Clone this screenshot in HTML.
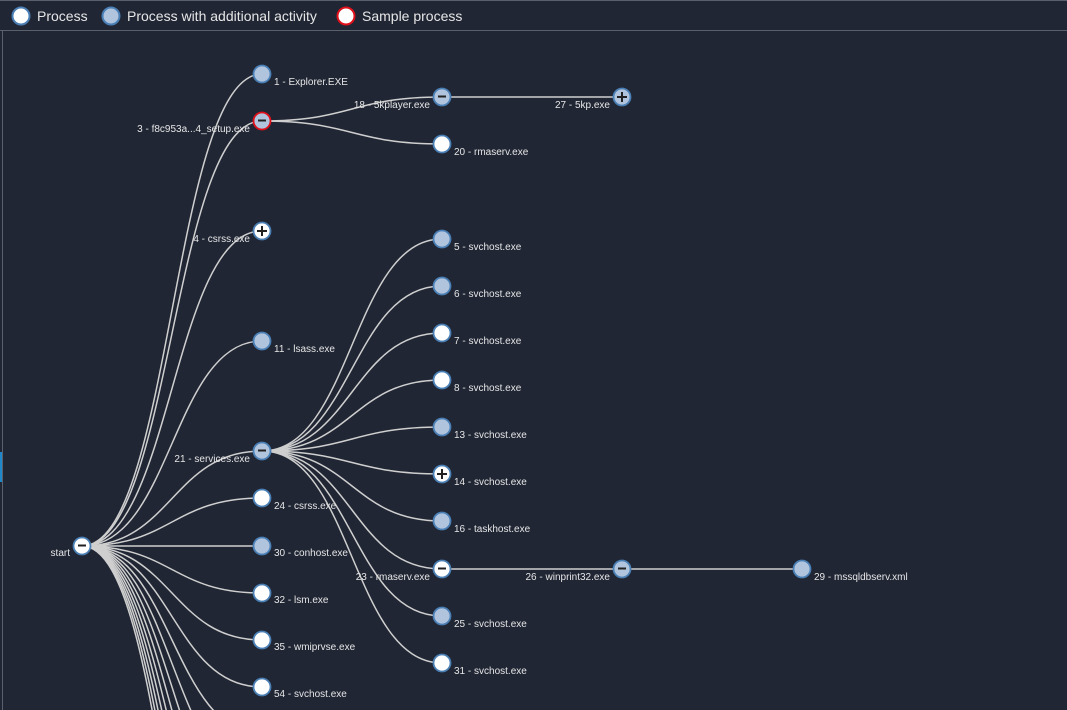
<!DOCTYPE html>
<html><head><meta charset="utf-8"><style>
html,body{margin:0;padding:0;background:#202634;width:1067px;height:710px;overflow:hidden;font-family:"Liberation Sans",sans-serif}
svg{position:absolute;left:0;top:0}
</style></head><body>
<svg width="1067" height="710" viewBox="0 0 1067 710">
<rect x="0" y="0" width="1067" height="710" fill="#202634"/>
<line x1="0" y1="30.5" x2="1067" y2="30.5" stroke="#5a606c" stroke-width="1"/>
<line x1="2.5" y1="31" x2="2.5" y2="710" stroke="#5a606c" stroke-width="1"/>
<line x1="0" y1="0.5" x2="1067" y2="0.5" stroke="#5a606c" stroke-width="1"/>
<rect x="0" y="452" width="2" height="30" fill="#1e88c8"/>
<g font-size="14" fill="#e6e6e6">
<circle cx="21" cy="16" r="8.5" fill="#fff" stroke="#4a7fb5" stroke-width="2"/>
<text x="37" y="21">Process</text>
<circle cx="111" cy="16" r="8.5" fill="#b0c4de" stroke="#4a7fb5" stroke-width="2"/>
<text x="127" y="21">Process with additional activity</text>
<circle cx="346" cy="16" r="8.5" fill="#fff" stroke="#e0101a" stroke-width="2"/>
<text x="362" y="21">Sample process</text>
</g>
<g fill="none" stroke="#cfcfcf" stroke-width="1.5">
<path d="M82,546C172,546 172,74 262,74"/>
<path d="M82,546C172,546 172,121 262,121"/>
<path d="M82,546C172,546 172,231 262,231"/>
<path d="M82,546C172,546 172,341 262,341"/>
<path d="M82,546C172,546 172,451 262,451"/>
<path d="M82,546C172,546 172,498 262,498"/>
<path d="M82,546C172,546 172,546 262,546"/>
<path d="M82,546C172,546 172,593 262,593"/>
<path d="M82,546C172,546 172,640 262,640"/>
<path d="M82,546C172,546 172,687 262,687"/>
<path d="M82,546C172,546 172,734 262,734"/>
<path d="M82,546C172,546 172,781 262,781"/>
<path d="M82,546C172,546 172,828 262,828"/>
<path d="M82,546C172,546 172,875 262,875"/>
<path d="M82,546C172,546 172,922 262,922"/>
<path d="M82,546C172,546 172,969 262,969"/>
<path d="M82,546C172,546 172,1016 262,1016"/>
<path d="M82,546C172,546 172,1063 262,1063"/>
<path d="M82,546C172,546 172,1110 262,1110"/>
<path d="M262,121C352,121 352,97 442,97"/>
<path d="M262,121C352,121 352,144 442,144"/>
<path d="M442,97L622,97"/>
<path d="M262,451C352,451 352,239 442,239"/>
<path d="M262,451C352,451 352,286 442,286"/>
<path d="M262,451C352,451 352,333 442,333"/>
<path d="M262,451C352,451 352,380 442,380"/>
<path d="M262,451C352,451 352,427 442,427"/>
<path d="M262,451C352,451 352,474 442,474"/>
<path d="M262,451C352,451 352,521 442,521"/>
<path d="M262,451C352,451 352,569 442,569"/>
<path d="M262,451C352,451 352,616 442,616"/>
<path d="M262,451C352,451 352,663 442,663"/>
<path d="M442,569L802,569"/>
</g>
<g stroke="#4a7fb5" stroke-width="1.8">
<circle cx="82" cy="546" r="8.5" fill="#fff"/>
<circle cx="262" cy="74" r="8.5" fill="#b0c4de"/>
<circle cx="262" cy="121" r="8.5" fill="#b0c4de" stroke="#e0101a"/>
<circle cx="262" cy="231" r="8.5" fill="#fff"/>
<circle cx="262" cy="341" r="8.5" fill="#b0c4de"/>
<circle cx="262" cy="451" r="8.5" fill="#b0c4de"/>
<circle cx="262" cy="498" r="8.5" fill="#fff"/>
<circle cx="262" cy="546" r="8.5" fill="#b0c4de"/>
<circle cx="262" cy="593" r="8.5" fill="#fff"/>
<circle cx="262" cy="640" r="8.5" fill="#fff"/>
<circle cx="262" cy="687" r="8.5" fill="#fff"/>
<circle cx="442" cy="97" r="8.5" fill="#b0c4de"/>
<circle cx="442" cy="144" r="8.5" fill="#fff"/>
<circle cx="622" cy="97" r="8.5" fill="#b0c4de"/>
<circle cx="442" cy="239" r="8.5" fill="#b0c4de"/>
<circle cx="442" cy="286" r="8.5" fill="#b0c4de"/>
<circle cx="442" cy="333" r="8.5" fill="#fff"/>
<circle cx="442" cy="380" r="8.5" fill="#fff"/>
<circle cx="442" cy="427" r="8.5" fill="#b0c4de"/>
<circle cx="442" cy="474" r="8.5" fill="#fff"/>
<circle cx="442" cy="521" r="8.5" fill="#b0c4de"/>
<circle cx="442" cy="569" r="8.5" fill="#fff"/>
<circle cx="442" cy="616" r="8.5" fill="#b0c4de"/>
<circle cx="442" cy="663" r="8.5" fill="#fff"/>
<circle cx="622" cy="569" r="8.5" fill="#b0c4de"/>
<circle cx="802" cy="569" r="8.5" fill="#b0c4de"/>
</g>
<g stroke="#222" stroke-width="2">
<path d="M78,545.5h8"/><path d="M258,120.5h8"/><path d="M258,450.5h8"/>
<path d="M438,96.5h8"/><path d="M438,568.5h8"/><path d="M618,568.5h8"/>
<path d="M257,231h10M262,226v10"/>
<path d="M617,97h10M622,92v10"/>
<path d="M437,474h10M442,469v10"/>
</g>
<g font-size="10" fill="#e6e6e6">
<text x="70" y="556" text-anchor="end">start</text>
<text x="274" y="85">1 - Explorer.EXE</text>
<text x="250" y="132" text-anchor="end">3 - f8c953a...4_setup.exe</text>
<text x="250" y="242" text-anchor="end">4 - csrss.exe</text>
<text x="274" y="352">11 - lsass.exe</text>
<text x="250" y="462" text-anchor="end">21 - services.exe</text>
<text x="274" y="509">24 - csrss.exe</text>
<text x="274" y="556">30 - conhost.exe</text>
<text x="274" y="603">32 - lsm.exe</text>
<text x="274" y="650">35 - wmiprvse.exe</text>
<text x="274" y="697">54 - svchost.exe</text>
<text x="430" y="108" text-anchor="end">18 - 5kplayer.exe</text>
<text x="454" y="155">20 - rmaserv.exe</text>
<text x="610" y="108" text-anchor="end">27 - 5kp.exe</text>
<text x="454" y="250">5 - svchost.exe</text>
<text x="454" y="297">6 - svchost.exe</text>
<text x="454" y="344">7 - svchost.exe</text>
<text x="454" y="391">8 - svchost.exe</text>
<text x="454" y="438">13 - svchost.exe</text>
<text x="454" y="485">14 - svchost.exe</text>
<text x="454" y="532">16 - taskhost.exe</text>
<text x="430" y="580" text-anchor="end">23 - rmaserv.exe</text>
<text x="454" y="627">25 - svchost.exe</text>
<text x="454" y="674">31 - svchost.exe</text>
<text x="610" y="580" text-anchor="end">26 - winprint32.exe</text>
<text x="814" y="580">29 - mssqldbserv.xml</text>
</g>
</svg>
</body></html>
